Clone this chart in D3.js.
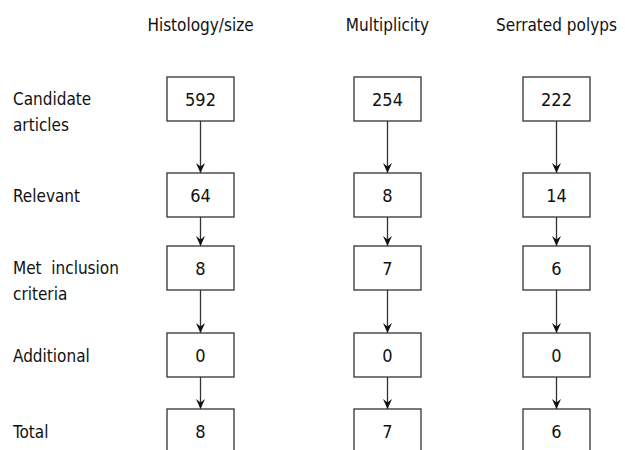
<!DOCTYPE html>
<html lang="en">
<head>
    <meta charset="UTF-8">
    <script src="https://d3js.org/d3.v7.min.js"></script>
    <style>
        body { margin: 0; padding: 0; background: #fff; }
        svg text { font-family: "DejaVu Sans Condensed", "DejaVu Sans", sans-serif; fill: #111; }
    </style>
</head>
<body>
    <svg id="chart"></svg>

    <script>
        // flowchart data
        const groups = ["Histology/size", "Multiplicity", "Serrated polyps"];
        const stages = ["Candidate articles", "Relevant", "Met inclusion criteria", "Additional", "Total"];
        const stageLabels = [["Candidate", "articles"], ["Relevant"], ["Met  inclusion", "criteria"], ["Additional"], ["Total"]];
        const histologyCounts = [592, 64, 8, 0, 8];
        const multiplicityCounts = [254, 8, 7, 0, 7];
        const serratedCounts = [222, 14, 6, 0, 6];

        const counts = [histologyCounts, multiplicityCounts, serratedCounts];

        const width = 625, height = 450;
        const boxW = 67, boxH = 44;

        const svg = d3.select("#chart")
            .attr("width", width)
            .attr("height", height);

        // column centres and row tops
        const x = d3.scaleOrdinal().domain(groups).range([200.5, 387.5, 556.5]);
        const y = d3.scaleOrdinal().domain(stages).range([77, 173, 246, 333, 409]);

        svg.append("defs").append("marker")
            .attr("id", "arrow")
            .attr("viewBox", "-11 -5 12 10")
            .attr("refX", 0).attr("refY", 0)
            .attr("markerUnits", "userSpaceOnUse")
            .attr("markerWidth", 12).attr("markerHeight", 10)
            .attr("orient", "auto")
            .append("path")
            .attr("d", "M0,0 L-10,-4.5 L-6.5,0 L-10,4.5 Z")
            .attr("fill", "#111");

        // column titles
        svg.selectAll(".title")
            .data(groups)
            .enter()
            .append("text")
            .attr("class", "title")
            .attr("x", d => x(d))
            .attr("y", 31)
            .attr("text-anchor", "middle")
            .style("font-size", "17px")
            .text(d => d);

        // row labels
        const rowLabel = svg.selectAll(".row")
            .data(stages)
            .enter()
            .append("text")
            .attr("class", "row")
            .attr("x", 13)
            .attr("y", (d, i) => y(d) + (stageLabels[i].length > 1 ? 28 : 29))
            .style("font-size", "17px");
        rowLabel.selectAll("tspan")
            .data((d, i) => stageLabels[i])
            .enter()
            .append("tspan")
            .attr("x", 13)
            .attr("dy", (d, i) => i === 0 ? 0 : 25.5)
            .style("white-space", "pre")
            .text(d => d);

        const cols = svg.selectAll(".col")
            .data(groups)
            .enter()
            .append("g")
            .attr("class", "col");

        // arrows between boxes
        cols.selectAll("line")
            .data(g => stages.slice(1).map((s, i) => ({ g, from: stages[i], to: s })))
            .enter()
            .append("line")
            .attr("x1", d => x(d.g))
            .attr("x2", d => x(d.g))
            .attr("y1", d => y(d.from) + boxH)
            .attr("y2", d => y(d.to))
            .attr("stroke", "#333")
            .attr("stroke-width", 1.3)
            .attr("marker-end", "url(#arrow)");

        // boxes
        const boxes = cols.selectAll(".box")
            .data((g, gi) => stages.map((s, i) => ({ g, s, v: counts[gi][i] })))
            .enter()
            .append("g")
            .attr("class", "box");

        boxes.append("rect")
            .attr("x", d => x(d.g) - boxW / 2)
            .attr("y", d => y(d.s))
            .attr("width", boxW)
            .attr("height", boxH)
            .attr("fill", "#fff")
            .attr("stroke", "#333")
            .attr("stroke-width", 1.3);

        boxes.append("text")
            .attr("x", d => x(d.g))
            .attr("y", d => y(d.s) + boxH / 2 + 7)
            .attr("text-anchor", "middle")
            .style("font-size", "18px")
            .text(d => d.v);
    </script>
</body>
</html>
